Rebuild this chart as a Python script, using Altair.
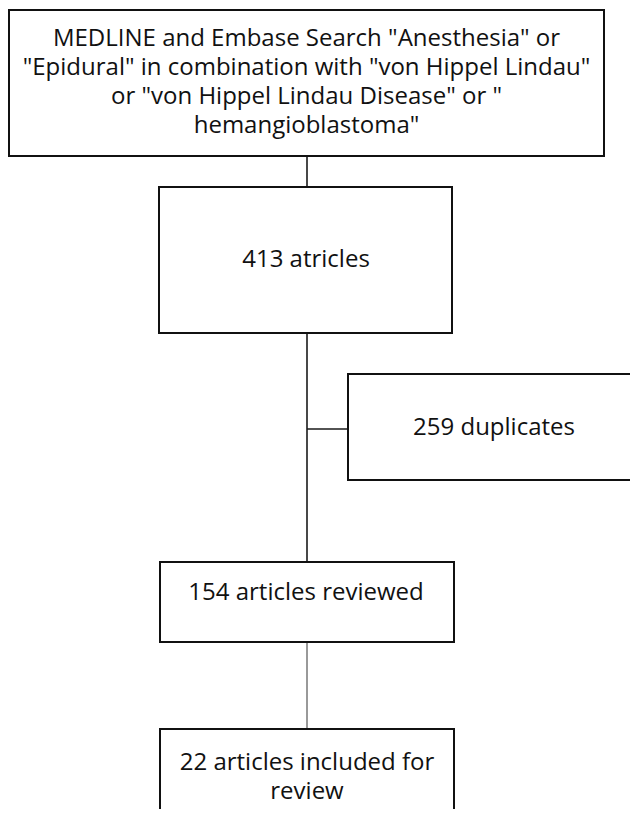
import altair as alt
import pandas as pd

# ---- content ----
counts = [413, 259, 154, 22]
box_labels = [
    ["MEDLINE and Embase Search \"Anesthesia\" or",
     "\"Epidural\" in combination with \"von Hippel Lindau\"",
     "or \"von Hippel Lindau Disease\" or \"",
     "hemangioblastoma\""],
    [f"{counts[0]} atricles"],
    [f"{counts[1]} duplicates"],
    [f"{counts[2]} articles reviewed"],
    [f"{counts[3]} articles included for", "review"],
]

# ---- layout (pixel-like units of the diagram canvas) ----
box_x1 = [9, 159, 348, 160, 160]
box_x2 = [604, 452, 660, 454, 454]
box_y1 = [10, 187, 374, 562, 729]
box_y2 = [156, 333, 480, 642, 850]
text_cx = [306.5, 306, 494, 306, 307]
text_cy = [39, 260, 428, 593, 763]   # centre of first line

link_x1 = [307, 307, 307]
link_x2 = [307, 307, 348]
link_y1 = [156, 333, 429]
link_y2 = [187, 562, 429]
thin_x = [307]
thin_y1 = [642]
thin_y2 = [729]

W, H = 622, 801
X0, Y0 = 8, 8

boxes = pd.DataFrame({"x1": box_x1, "x2": box_x2, "y1": box_y1, "y2": box_y2})
texts = pd.DataFrame({"x": text_cx, "y": text_cy,
                      "t": ["\n".join(l) for l in box_labels]})
links = pd.DataFrame({"x1": link_x1, "x2": link_x2, "y1": link_y1, "y2": link_y2})
thin = pd.DataFrame({"x1": thin_x, "y1": thin_y1, "y2": thin_y2})

xs = alt.Scale(domain=[X0, X0 + W], nice=False, zero=False)
ys = alt.Scale(domain=[Y0, Y0 + H], nice=False, zero=False, reverse=True)

links_l = alt.Chart(links).mark_rule(color="#1a1a1a", strokeWidth=1.6).encode(
    x=alt.X("x1:Q", scale=xs, axis=None), x2="x2:Q",
    y=alt.Y("y1:Q", scale=ys, axis=None), y2="y2:Q")

thin_l = alt.Chart(thin).mark_rule(color="#555555", strokeWidth=1.2).encode(
    x=alt.X("x1:Q", scale=xs, axis=None),
    y=alt.Y("y1:Q", scale=ys, axis=None), y2="y2:Q")

rects = alt.Chart(boxes).mark_rect(fill="white", stroke="#111111", strokeWidth=2, clip=True).encode(
    x=alt.X("x1:Q", scale=xs, axis=None), x2="x2:Q",
    y=alt.Y("y1:Q", scale=ys, axis=None), y2="y2:Q")

labels = alt.Chart(texts).mark_text(font="Open Sans", fontSize=24, color="#111111",
                                    align="center", baseline="middle",
                                    lineBreak="\n", lineHeight=29, clip=True).encode(
    x=alt.X("x:Q", scale=xs, axis=None),
    y=alt.Y("y:Q", scale=ys, axis=None),
    text="t:N")

chart = alt.layer(links_l, thin_l, rects, labels).properties(
    width=W, height=H, padding=0, autosize=alt.AutoSizeParams(type="none"),
    background="white"
).configure_view(stroke=None)

chart.save("out.html", embed_options={"renderer": "svg", "actions": False})
